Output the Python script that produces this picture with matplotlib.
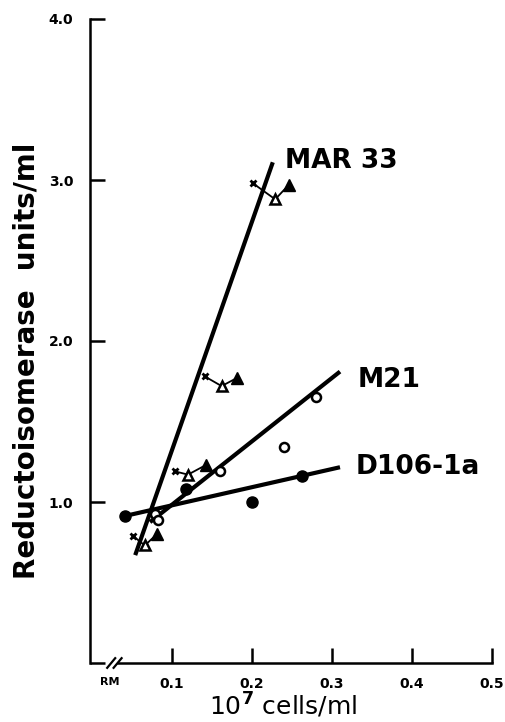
import matplotlib
matplotlib.use("Agg")
import matplotlib.pyplot as plt

# MAR 33: crosses, open triangles, filled triangles (grouped by level)
mar_cross_x = [0.051, 0.104, 0.141, 0.201]
mar_cross_y = [0.79, 1.19, 1.78, 2.98]
mar_otri_x = [0.066, 0.120, 0.162, 0.229]
mar_otri_y = [0.73, 1.17, 1.72, 2.88]
mar_ftri_x = [0.081, 0.1425, 0.181, 0.246]
mar_ftri_y = [0.80, 1.23, 1.77, 2.97]
mar_fit_x = [0.054, 0.226]
mar_fit_y = [0.67, 3.11]

# M21: open circles
m21_x = [0.079, 0.082, 0.160, 0.240, 0.280]
m21_y = [0.925, 0.89, 1.19, 1.34, 1.655]
m21_fit_x = [0.0725, 0.31]
m21_fit_y = [0.875, 1.81]

# D106-1a: filled circles
d106_x = [0.041, 0.118, 0.200, 0.262]
d106_y = [0.91, 1.08, 1.00, 1.16]
d106_fit_x = [0.041, 0.31]
d106_fit_y = [0.913, 1.216]

series_labels = ["MAR 33", "M21", "D106-1a"]
label_x = [0.241, 0.3325, 0.329]
label_y = [3.12, 1.76, 1.22]

xticks = [0.1, 0.2, 0.3, 0.4, 0.5]
xtick_labels = ["0.1", "0.2", "0.3", "0.4", "0.5"]
yticks = [1.0, 2.0, 3.0, 4.0]
ytick_labels = ["1.0", "2.0", "3.0", "4.0"]

W, H = 506, 722
fig = plt.figure(figsize=(W / 100, H / 100), dpi=100)
ax = fig.add_axes([90 / W, 59 / H, 402 / W, 644 / H])

ax.set_xlim(-0.0025, 0.5)
ax.set_ylim(0, 4.0)

# fitted lines
fit_kw = dict(color="black", lw=3.0, solid_capstyle="butt", zorder=2)
ax.plot(mar_fit_x, mar_fit_y, **fit_kw)
ax.plot(m21_fit_x, m21_fit_y, **fit_kw)
ax.plot(d106_fit_x, d106_fit_y, **fit_kw)

# thin connectors within each MAR 33 group
for i in range(len(mar_cross_x)):
    ax.plot([mar_cross_x[i], mar_otri_x[i], mar_ftri_x[i]],
            [mar_cross_y[i], mar_otri_y[i], mar_ftri_y[i]],
            color="black", lw=1.3, zorder=3)

ax.plot(mar_cross_x, mar_cross_y, ls="none", marker="x", ms=5, mew=2,
        color="black", zorder=4)
ax.plot(mar_otri_x, mar_otri_y, ls="none", marker="^", ms=7, mew=1.8,
        mfc="white", mec="black", zorder=4)
ax.plot(mar_ftri_x, mar_ftri_y, ls="none", marker="^", ms=8,
        color="black", zorder=4)
ax.plot(m21_x, m21_y, ls="none", marker="o", ms=6.5, mew=1.8,
        mfc="white", mec="black", zorder=4)
ax.plot(d106_x, d106_y, ls="none", marker="o", ms=8,
        color="black", zorder=4)

for lab, lx, ly in zip(series_labels, label_x, label_y):
    ax.text(lx, ly, lab, fontsize=19, fontweight="bold", ha="left",
            va="center", family="DejaVu Sans")

# axes styling
for s in ["top", "right"]:
    ax.spines[s].set_visible(False)
ax.spines["left"].set_linewidth(1.8)
ax.spines["bottom"].set_linewidth(1.8)
ax.spines["bottom"].set_bounds(0.033, 0.5)

# short piece of the x axis left of the break, and the break marks
ax.plot([-0.0025, 0.016], [0, 0], color="black", lw=1.8, clip_on=False,
        solid_capstyle="butt")
for x0 in [0.019, 0.027]:
    ax.plot([x0, x0 + 0.010], [-0.03, 0.03], color="black", lw=1.6,
            clip_on=False)

ax.set_xticks(xticks)
ax.set_xticklabels(xtick_labels)
ax.set_yticks(yticks)
ax.set_yticklabels(ytick_labels)
ax.tick_params(axis="both", direction="in", length=11, width=1.8,
               labelsize=10, pad=12)
ax.tick_params(axis="x", pad=10)
for t in ax.get_xticklabels() + ax.get_yticklabels():
    t.set_fontweight("bold")

ax.text(0.0225, -0.12, "RM", fontsize=8, fontweight="bold",
        ha="center", va="center")

ax.set_xlabel(r"10$^{\mathbf{7}}$ cells/ml", fontsize=18, labelpad=0)
ax.set_ylabel("Reductoisomerase  units/ml", fontsize=20, fontweight="bold",
              labelpad=6)
ax.xaxis.label.set_position((0.48, 0))
ax.yaxis.label.set_position((0, 0.47))

fig.savefig("out.png", dpi=100)
